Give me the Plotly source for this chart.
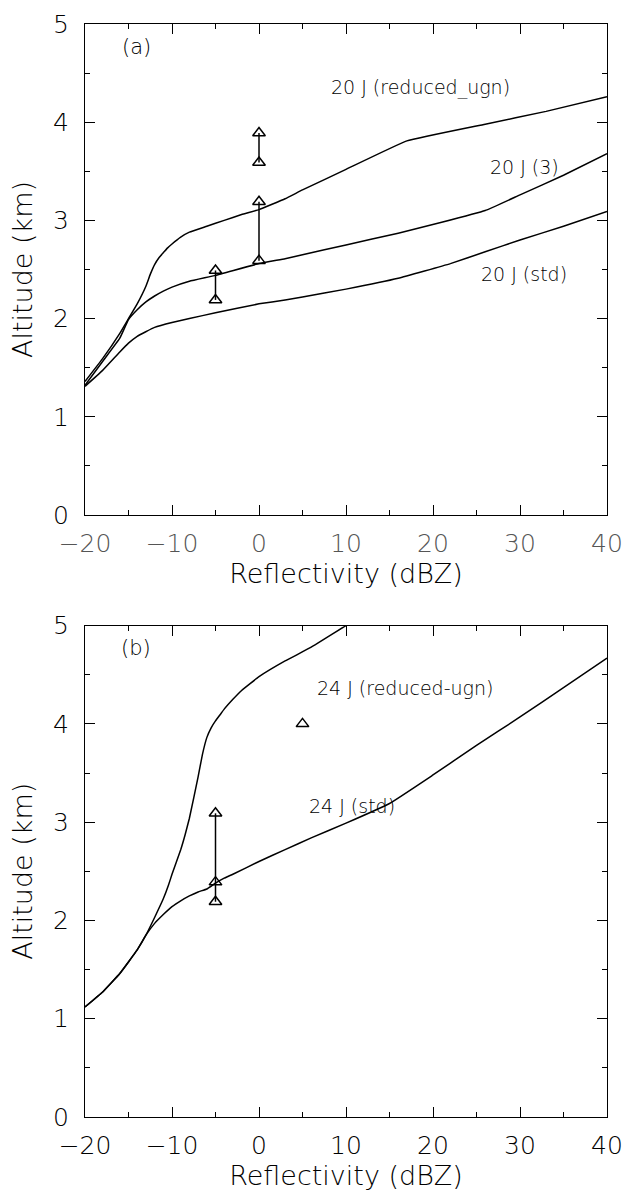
import plotly.graph_objects as go

# ---------------- data ----------------
# Panel (a)
a_red_x = [-20, -18, -16, -15, -14, -13, -12.5, -12, -11.5, -11, -10.5, -10, -9, -8, -6, -4, -2, 0, 3, 5, 10, 17, 26, 33, 40]
a_red_y = [1.36, 1.59, 1.85, 2.0, 2.15, 2.33, 2.45, 2.55, 2.62, 2.67, 2.72, 2.76, 2.83, 2.88, 2.94, 3.00, 3.06, 3.11, 3.22, 3.31, 3.52, 3.81, 3.98, 4.11, 4.26]

a_3_x = [-20, -18, -16, -15, -14, -13, -12, -11, -10, -8, -5, 0, 3, 5, 10, 16, 21, 26, 30, 35, 40]
a_3_y = [1.32, 1.56, 1.80, 1.99, 2.09, 2.17, 2.23, 2.28, 2.32, 2.38, 2.44, 2.56, 2.61, 2.65, 2.75, 2.87, 2.98, 3.10, 3.26, 3.46, 3.68]

a_std_x = [-20, -18, -16, -15, -14, -12, -10, -8, -5, 0, 3, 5, 10, 16, 22, 26, 30, 35, 40]
a_std_y = [1.31, 1.47, 1.66, 1.75, 1.82, 1.91, 1.96, 2.00, 2.06, 2.15, 2.19, 2.22, 2.30, 2.41, 2.56, 2.68, 2.80, 2.94, 3.09]

a_obs_groups_x = [[-5, -5], [0, 0], [0, 0]]
a_obs_groups_y = [[2.49, 2.19], [3.89, 3.59], [3.19, 2.59]]

# Panel (b)
b_red_x = [-20, -18, -16, -14, -13, -12, -11, -10.4, -10, -9, -8.5, -8, -7, -6.5, -6, -5.5, -5, -4.5, -4, -3, -2, 0, 3, 6, 10, 12]
b_red_y = [1.12, 1.27, 1.46, 1.70, 1.85, 2.03, 2.22, 2.36, 2.47, 2.72, 2.87, 3.04, 3.46, 3.69, 3.86, 3.96, 4.03, 4.09, 4.15, 4.25, 4.34, 4.48, 4.64, 4.78, 5.0, 5.1]

b_std_x = [-20, -18, -16, -14, -13, -12, -11, -10, -9, -8, -7, -6, -5, -4, -3, 0, 3, 6, 10, 15, 20, 25, 30, 35, 40]
b_std_y = [1.12, 1.27, 1.46, 1.70, 1.85, 1.97, 2.06, 2.14, 2.20, 2.25, 2.29, 2.32, 2.38, 2.43, 2.47, 2.60, 2.72, 2.84, 2.99, 3.19, 3.48, 3.78, 4.07, 4.37, 4.67]

b_obs_groups_x = [[-5, -5, -5], [5]]
b_obs_groups_y = [[3.09, 2.39, 2.19], [4.0]]

x_ticks = [-20, -10, 0, 10, 20, 30, 40]
y_ticks = [0, 1, 2, 3, 4, 5]

# ---------------- figure ----------------
FONT = "DejaVu Sans"
W = 200
fig = go.Figure()

line_style = dict(color="black", width=1.5, shape="spline", smoothing=0.3)

def add_curve(x, y, xa, ya):
    fig.add_trace(go.Scatter(x=x, y=y, mode="lines", line=line_style,
                             xaxis=xa, yaxis=ya, showlegend=False, hoverinfo="skip"))

def add_obs(gx, gy, xa, ya):
    for xs, ys in zip(gx, gy):
        fig.add_trace(go.Scatter(x=xs, y=ys, mode="lines+markers",
                                 line=dict(color="black", width=1.5),
                                 marker=dict(symbol="triangle-up-open", size=11,
                                             color="black", line=dict(width=1.5, color="black")),
                                 xaxis=xa, yaxis=ya, showlegend=False, hoverinfo="skip"))

add_curve(a_red_x, a_red_y, "x", "y")
add_curve(a_3_x, a_3_y, "x", "y")
add_curve(a_std_x, a_std_y, "x", "y")
add_obs(a_obs_groups_x, a_obs_groups_y, "x", "y")

add_curve(b_red_x, b_red_y, "x2", "y2")
add_curve(b_std_x, b_std_y, "x2", "y2")
add_obs(b_obs_groups_x, b_obs_groups_y, "x2", "y2")

def xaxis_style(domain_anchor, tickcolor):
    return dict(range=[-20, 40], tickvals=x_ticks, ticks="inside", ticklen=10,
                tickwidth=1, tickcolor="black", showline=True, linecolor="black",
                linewidth=1.2, mirror="ticks", showgrid=False, zeroline=False,
                anchor=domain_anchor,
                minor=dict(dtick=5, tick0=-20, ticks="inside", ticklen=5, tickcolor="black", showgrid=False),
                tickfont=dict(family=FONT, size=25, color=tickcolor, weight=W),
                title=dict(text="Reflectivity (dBZ)", font=dict(family=FONT, size=27, color="black", weight=W),
                           standoff=6),
                ticklabelstandoff=6)

def yaxis_style(domain, domain_anchor):
    return dict(range=[0, 5], tickvals=y_ticks, ticks="inside", ticklen=10,
                tickwidth=1, tickcolor="black", showline=True, linecolor="black",
                linewidth=1.2, mirror="ticks", showgrid=False, zeroline=False,
                domain=domain, anchor=domain_anchor,
                minor=dict(dtick=0.5, tick0=0, ticks="inside", ticklen=5, tickcolor="black", showgrid=False),
                tickfont=dict(family=FONT, size=25, color="black", weight=W),
                title=dict(text="Altitude (km)", font=dict(family=FONT, size=27, color="black", weight=W),
                           standoff=12),
                ticklabelstandoff=10)

fig.update_layout(
    width=634, height=1196,
    margin=dict(l=85, r=27, t=10, b=79),
    paper_bgcolor="white", plot_bgcolor="white",
    xaxis=xaxis_style("y", "#555555"),
    yaxis=yaxis_style([0.5508, 1.0], "x"),
    xaxis2=xaxis_style("y2", "black"),
    yaxis2=yaxis_style([0.0, 0.4496], "x2"),
)

ann_font = dict(family=FONT, size=19, color="black", weight=W)
lab_font = dict(family=FONT, size=21, color="black", weight=W)
annotations = [
    dict(text="(a)", x=-14.1, y=4.77, xref="x", yref="y", font=lab_font),
    dict(text="20 J (reduced_ugn)", x=18.6, y=4.35, xref="x", yref="y", font=ann_font),
    dict(text="20 J (3)", x=30.5, y=3.54, xref="x", yref="y", font=ann_font),
    dict(text="20 J (std)", x=30.5, y=2.45, xref="x", yref="y", font=ann_font),
    dict(text="(b)", x=-14.1, y=4.77, xref="x2", yref="y2", font=lab_font),
    dict(text="24 J (reduced-ugn)", x=16.8, y=4.36, xref="x2", yref="y2", font=ann_font),
    dict(text="24 J (std)", x=10.7, y=3.16, xref="x2", yref="y2", font=ann_font),
]
for a in annotations:
    a["showarrow"] = False
fig.update_layout(annotations=annotations)

fig.write_html("out.html")
